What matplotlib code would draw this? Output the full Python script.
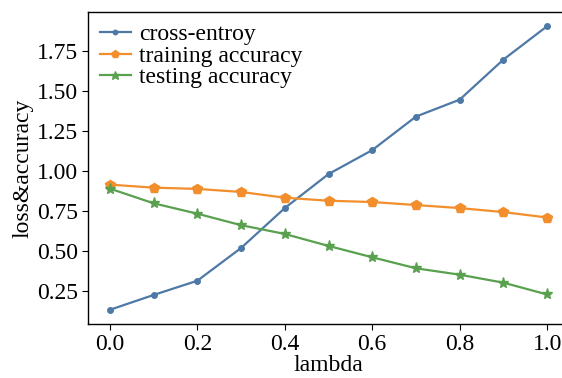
import matplotlib
matplotlib.use("Agg")
import matplotlib.pyplot as plt

# lambda values and the three curves
lam = [0.0, 0.1, 0.2, 0.3, 0.4, 0.5, 0.6, 0.7, 0.8, 0.9, 1.0]
cross_entropy = [0.13, 0.223, 0.312, 0.517, 0.767, 0.98, 1.13, 1.34, 1.446, 1.697, 1.906]
train_acc = [0.914, 0.895, 0.887, 0.868, 0.832, 0.813, 0.805, 0.786, 0.767, 0.742, 0.708]
test_acc = [0.889, 0.797, 0.732, 0.66, 0.605, 0.53, 0.459, 0.39, 0.35, 0.30, 0.226]

plt.rcParams['font.family'] = ['Liberation Serif', 'DejaVu Serif']
plt.rcParams['mathtext.fontset'] = 'stix'

fig = plt.figure(figsize=(5.62, 3.78), dpi=100)
# the original is cropped on the right, so the axes run past the figure edge
ax = fig.add_axes([88 / 562, 54 / 378, 481 / 562, 312 / 378])

ax.plot(lam, cross_entropy, color='#4e79a7', marker='o', ms=4, lw=1.6, label='cross-entroy')
ax.plot(lam, train_acc, color='#f28e2b', marker='p', ms=7, lw=1.6, label='training accuracy')
ax.plot(lam, test_acc, color='#59a14f', marker='*', ms=8, lw=1.6, label='testing accuracy')

ax.set_xlabel('lambda', fontsize=17, labelpad=0)
ax.set_ylabel('loss&accuracy', fontsize=17, labelpad=3)
ax.set_xticks([0.0, 0.2, 0.4, 0.6, 0.8, 1.0])
ax.set_yticks([0.25, 0.5, 0.75, 1.0, 1.25, 1.5, 1.75])
ax.tick_params(labelsize=17, direction='out', length=4, top=False, right=False, pad=3)

for s in ax.spines.values():
    s.set_linewidth(1.0)
ax.spines['right'].set_visible(False)

ax.legend(loc='upper left', frameon=False, fontsize=17, handlelength=1.3,
          labelspacing=0.0, borderaxespad=0.1, handletextpad=0.35, markerscale=0.8)

fig.savefig('out.png', dpi=100)
